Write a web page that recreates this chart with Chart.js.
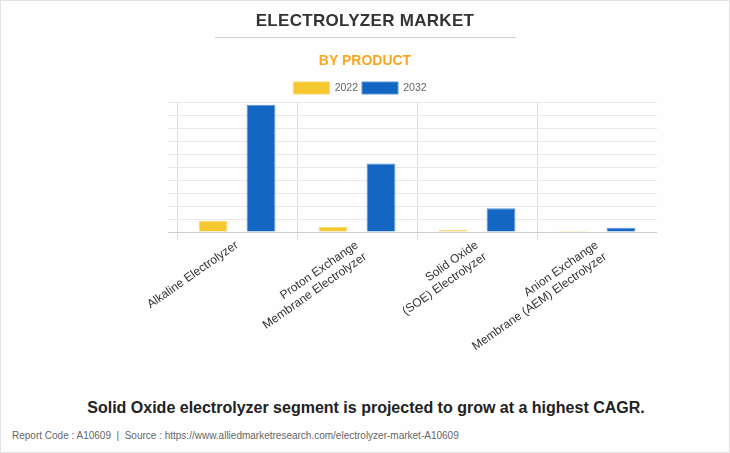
<!DOCTYPE html>
<html>
<head>
<meta charset="utf-8">
<script src="https://cdn.jsdelivr.net/npm/chart.js@4.4.1/dist/chart.umd.min.js"></script>
<style>
  html, body { margin: 0; padding: 0; background: #fff; }
  #wrap { position: relative; width: 730px; height: 453px; box-sizing: border-box; border: 1px solid #e3e3e3; background: #fefefe; font-family: "Liberation Sans", Arial, sans-serif; overflow: hidden; }
  .abs { position: absolute; white-space: nowrap; }
  #title { left: 0; width: 728px; top: 10px; line-height: 20px; text-align: center; font-weight: bold; font-size: 17px; color: #333; letter-spacing: 0.3px; }
  #rule { left: 214px; top: 36px; width: 301px; height: 1px; background: #cfcfcf; }
  #sub { left: 0; width: 728px; top: 50px; line-height: 18px; text-align: center; font-weight: bold; font-size: 14px; color: #F6A821; }
  #note { left: 1px; width: 728px; top: 397px; line-height: 20px; text-align: center; font-weight: bold; font-size: 16px; color: #222; }
  #foot { left: 11px; top: 429px; line-height: 12px; font-size: 10px; color: #666; }
  #cv { position: absolute; left: 62px; top: -1px; width: 594px; height: 390px; }
  #chart { display: block; }
</style>
</head>
<body>
<div id="wrap">
  <div id="cv"><canvas id="chart" width="594" height="390"></canvas></div>
  <div class="abs" id="title">ELECTROLYZER MARKET</div>
  <div class="abs" id="rule"></div>
  <div class="abs" id="sub">BY PRODUCT</div>
  <div class="abs" id="note">Solid Oxide electrolyzer segment is projected to grow at a highest CAGR.</div>
  <div class="abs" id="foot">Report Code : A10609 &nbsp;|&nbsp; Source : https://www.alliedmarketresearch.com/electrolyzer-market-A10609</div>
</div>
<script>
const categories = [
  ["Alkaline Electrolyzer"],
  ["Proton Exchange", "Membrane Electrolyzer"],
  ["Solid Oxide", "(SOE) Electrolyzer"],
  ["Anion Exchange", "Membrane (AEM) Electrolyzer"]
];
const seriesNames = ["2022", "2032"];
const values2022 = [0.87, 0.41, 0.15, 0.07];
const values2032 = [9.85, 5.30, 1.84, 0.33];
const yMax = 10;
const yStep = 1;

const FONT = "'Liberation Sans', Arial, sans-serif";

new Chart(document.getElementById('chart'), {
  type: 'bar',
  data: {
    labels: categories,
    datasets: [
      { label: seriesNames[0], data: values2022, backgroundColor: '#F5C830', borderColor: '#F8D870', borderWidth: 1 },
      { label: seriesNames[1], data: values2032, backgroundColor: '#1366C2', borderColor: '#5A93D6', borderWidth: 1 }
    ]
  },
  options: {
    responsive: false,
    maintainAspectRatio: false,
    animation: false,
    devicePixelRatio: 1,
    layout: { padding: { top: 78, left: 0, right: 0, bottom: 0 } },
    plugins: {
      legend: {
        position: 'top',
        maxHeight: 24.7,
        labels: { boxWidth: 36, boxHeight: 12, padding: 4, color: '#666', font: { family: FONT, size: 10.5 } }
      },
      tooltip: { enabled: false },
      title: { display: false }
    },
    datasets: { bar: { categoryPercentage: 0.8, barPercentage: 0.6 } },
    scales: {
      x: {
        offset: true,
        grid: {
          offset: true,
          drawOnChartArea: true,
          tickLength: 8,
          color: (ctx) => ctx.index === categories.length ? 'rgba(0,0,0,0)' : '#dcdcdc'
        },
        border: { display: true, color: '#cccccc' },
        ticks: { color: '#333', font: { family: FONT, size: 12 }, minRotation: 35, maxRotation: 35, padding: -2, autoSkip: false },
        afterFit: (axis) => { axis.height = 158; }
      },
      y: {
        min: 0, max: yMax,
        ticks: { display: false, stepSize: yStep },
        grid: { color: (ctx) => ctx.tick && ctx.tick.value === 0 ? '#cccccc' : '#e8e8e8', tickLength: 9 },
        border: { display: false },
        afterFit: (axis) => { axis.width = 114; }
      }
    }
  }
});
</script>
</body>
</html>
